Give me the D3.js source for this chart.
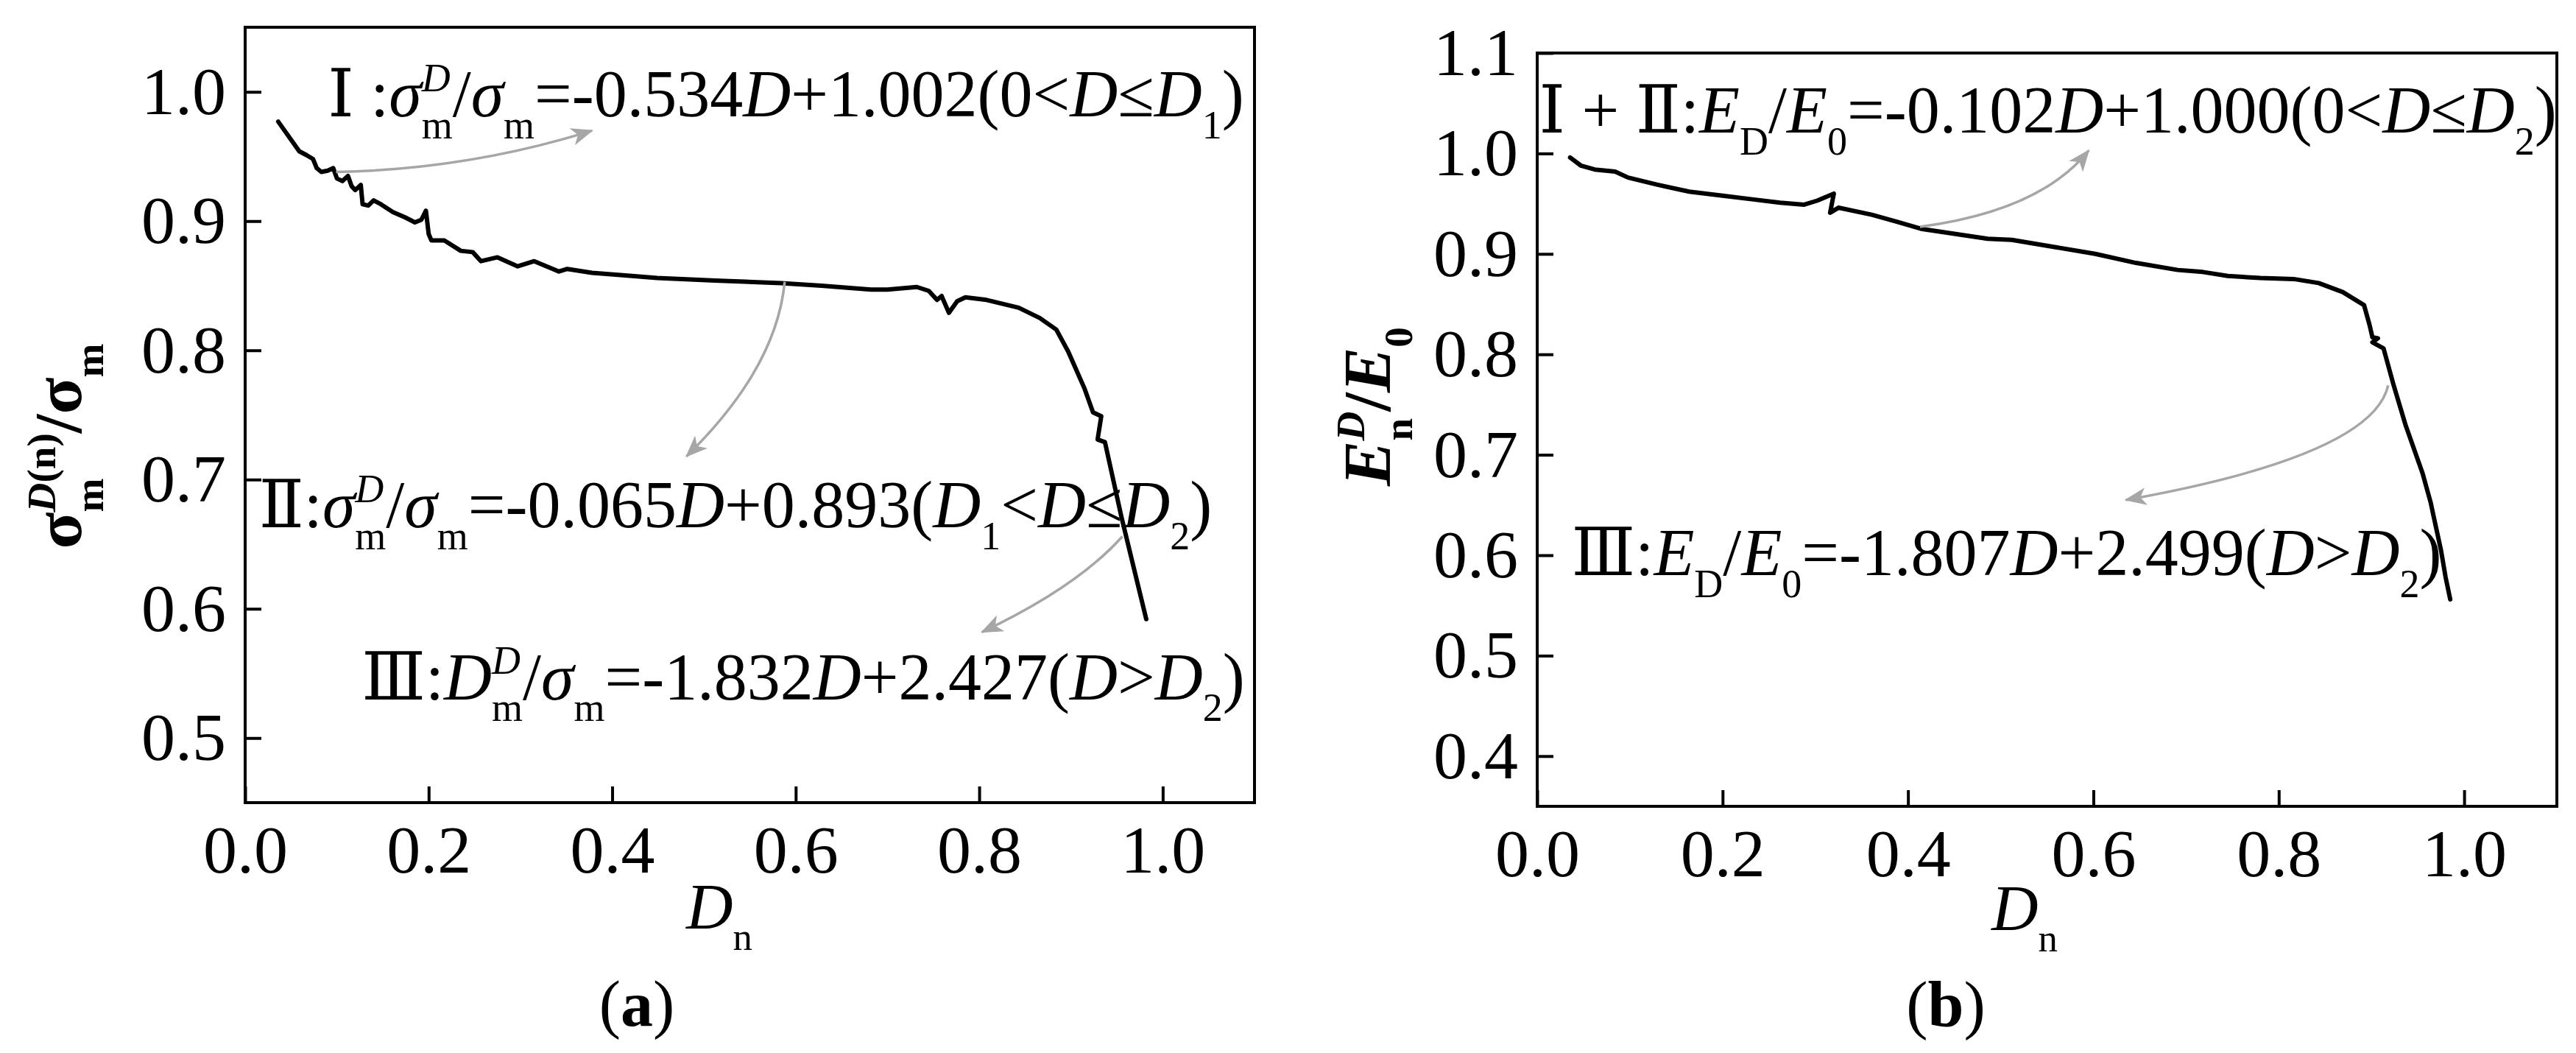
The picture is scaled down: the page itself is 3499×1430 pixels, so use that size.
<!DOCTYPE html>
<html><head><meta charset="utf-8">
<script src="https://cdn.jsdelivr.net/npm/d3@7"></script>
<style>body{margin:0;background:#fff} svg{display:block;background:#fff}</style>
</head><body>
<svg id="c" width="3499" height="1430"></svg>
<script>
// ---------- data ----------
const xTicks = [0, 0.2, 0.4, 0.6, 0.8, 1.0];
const yTicksA = [0.5, 0.6, 0.7, 0.8, 0.9, 1.0];
const yTicksB = [0.4, 0.5, 0.6, 0.7, 0.8, 0.9, 1.0, 1.1];

// (a) normalised strength vs damage
const damageA = [0.036,0.059,0.067,0.074,0.078,0.083,0.090,0.096,0.100,0.106,0.112,0.116,0.120,0.126,0.128,0.134,0.140,0.148,0.161,0.174,0.185,0.192,0.197,0.200,0.203,0.217,0.235,0.248,0.257,0.275,0.297,0.315,0.342,0.351,0.378,0.414,0.449,0.512,0.584,0.628,0.682,0.700,0.732,0.745,0.754,0.759,0.767,0.776,0.785,0.808,0.843,0.866,0.884,0.897,0.915,0.924,0.933,0.929,0.937,0.955,0.982];
const strengthA = [0.977,0.954,0.951,0.948,0.941,0.938,0.939,0.941,0.933,0.931,0.935,0.927,0.924,0.928,0.913,0.912,0.916,0.913,0.907,0.903,0.899,0.901,0.908,0.890,0.885,0.885,0.877,0.876,0.869,0.872,0.865,0.869,0.861,0.863,0.860,0.858,0.856,0.854,0.852,0.850,0.847,0.847,0.849,0.846,0.839,0.842,0.829,0.838,0.841,0.839,0.833,0.825,0.816,0.799,0.770,0.752,0.749,0.731,0.729,0.671,0.592];

// (b) normalised modulus vs damage
const damageB = [0.0355,0.047,0.062,0.084,0.098,0.129,0.164,0.200,0.235,0.262,0.288,0.302,0.320,0.316,0.325,0.361,0.388,0.414,0.450,0.486,0.512,0.557,0.602,0.646,0.691,0.718,0.745,0.780,0.816,0.843,0.869,0.892,0.898,0.901,0.907,0.901,0.913,0.924,0.937,0.955,0.964,0.967,0.975,0.980,0.985];
const modulusB = [0.996,0.988,0.984,0.982,0.976,0.969,0.962,0.958,0.954,0.951,0.949,0.953,0.960,0.941,0.946,0.939,0.932,0.925,0.920,0.915,0.914,0.907,0.900,0.891,0.884,0.882,0.878,0.876,0.875,0.871,0.862,0.849,0.829,0.817,0.816,0.812,0.806,0.769,0.729,0.682,0.652,0.639,0.605,0.578,0.556];

// annotation equations (text parts) and anchor positions in data units
const eqA1 = [{t:'Ⅰ :'},{t:'σ',i:1},{t:'D',i:1,p:'sup'},{t:'m',p:'sub',back:1},{t:'/'},{t:'σ',i:1},{t:'m',p:'sub'},{t:'=-0.534'},{t:'D',i:1},{t:'+1.002(0<'},{t:'D',i:1},{t:'≤'},{t:'D',i:1},{t:'1',p:'sub'},{t:')'}];
const eqA2 = [{t:'Ⅱ:'},{t:'σ',i:1},{t:'D',i:1,p:'sup'},{t:'m',p:'sub',back:1},{t:'/'},{t:'σ',i:1},{t:'m',p:'sub'},{t:'=-0.065'},{t:'D',i:1},{t:'+0.893('},{t:'D',i:1},{t:'1',p:'sub'},{t:'<'},{t:'D',i:1},{t:'≤'},{t:'D',i:1},{t:'2',p:'sub'},{t:')'}];
const eqA3 = [{t:'Ⅲ:'},{t:'D',i:1},{t:'D',i:1,p:'sup'},{t:'m',p:'sub',back:1},{t:'/'},{t:'σ',i:1},{t:'m',p:'sub'},{t:'=-1.832'},{t:'D',i:1},{t:'+2.427('},{t:'D',i:1},{t:'>'},{t:'D',i:1},{t:'2',p:'sub'},{t:')'}];
const eqB1 = [{t:'Ⅰ + Ⅱ:'},{t:'E',i:1},{t:'D',p:'sub'},{t:'/'},{t:'E',i:1},{t:'0',p:'sub'},{t:'=-0.102'},{t:'D',i:1},{t:'+1.000(0<'},{t:'D',i:1},{t:'≤'},{t:'D',i:1},{t:'2',p:'sub'},{t:')'}];
const eqB2 = [{t:'Ⅲ:'},{t:'E',i:1},{t:'D',p:'sub'},{t:'/'},{t:'E',i:1},{t:'0',p:'sub'},{t:'=-1.807'},{t:'D',i:1},{t:'+2.499('},{t:'D',i:1},{t:'>'},{t:'D',i:1},{t:'2',p:'sub'},{t:')'}];

const labelPosA = [[0.090, 0.981], [0.015, 0.663], [0.127, 0.530]];
const labelPosB = [[0.002, 1.0205], [0.037, 0.580]];
// arrows: [start, control, end] in data units
const arrowsA = [
  [[0.099, 0.938], [0.243, 0.940], [0.378, 0.970]],
  [[0.588, 0.853], [0.579, 0.786], [0.481, 0.718]],
  [[0.956, 0.656], [0.907, 0.617], [0.803, 0.582]]
];
const arrowsB = [
  [[0.413, 0.927], [0.543, 0.943], [0.595, 1.003]],
  [[0.918, 0.769], [0.901, 0.699], [0.635, 0.655]]
];

const titleA = [{t:'σ',b:1},{t:'D',i:1,b:1,p:'sup'},{t:'(n)',b:1,p:'sup'},{t:'m',b:1,p:'sub',back:1},{t:'/',b:1},{t:'σ',b:1},{t:'m',b:1,p:'sub'}];
const titleB = [{t:'E',i:1,b:1},{t:'D',i:1,b:1,p:'sup'},{t:'n',b:1,p:'sub',back:1},{t:'/',b:1},{t:'E',i:1,b:1},{t:'0',b:1,p:'sub'}];
const xTitle = [{t:'D',i:1},{t:'n',p:'sub'}];

// ---------- drawing ----------
const FONT = "'Liberation Serif','DejaVu Serif','Times New Roman',serif";
const svg = d3.select('#c');
svg.append('rect').attr('width',3499).attr('height',1430).attr('fill','#fff');

const defs = svg.append('defs');
defs.append('marker').attr('id','ah').attr('markerUnits','userSpaceOnUse')
  .attr('viewBox','0 0 30 24').attr('refX',28).attr('refY',12)
  .attr('markerWidth',30).attr('markerHeight',24).attr('orient','auto')
  .append('path').attr('d','M0,0 L30,12 L0,24 L8,12 Z').attr('fill','#a6a6a6');

function rich(text, parts, fs) {
  let cur = 0, runW = 0, prevRunW = 0, lastPos = null, extra = 0;
  parts.forEach(p => {
    const pos = p.p || 'base';
    const size = pos === 'base' ? fs : fs * 0.6;
    const target = pos === 'sub' ? fs * 0.33 : pos === 'sup' ? -fs * 0.38 : 0;
    if (pos !== lastPos) { prevRunW = runW; runW = 0; }
    const ts = text.append('tspan').text(p.t)
      .attr('font-size', size)
      .attr('font-style', p.i ? 'italic' : 'normal')
      .attr('font-weight', p.b ? 'bold' : 'normal');
    if (target - cur !== 0) ts.attr('dy', target - cur);
    let dx = 0;
    if (p.back) dx -= prevRunW;
    else if (extra > 0) { dx += extra; extra = 0; }
    if (dx) ts.attr('dx', dx);
    cur = target;
    const w = ts.node().getComputedTextLength();
    runW += w;
    if (p.back) { extra = Math.max(0, prevRunW - runW); }
    lastPos = pos;
  });
  return text;
}

function panel(cfg) {
  const x = d3.scaleLinear().domain([0, 1.1]).range([cfg.left, cfg.right]);
  const y = d3.scaleLinear().domain(cfg.yDomain).range([cfg.bottom, cfg.top]);
  const g = svg.append('g');

  const xa = g.append('g').attr('transform', `translate(0,${cfg.bottom})`)
    .call(d3.axisBottom(x).tickValues(xTicks).tickFormat(d3.format('.1f'))
      .tickSizeInner(-22).tickSizeOuter(0).tickPadding(30));
  const ya = g.append('g').attr('transform', `translate(${cfg.left},0)`)
    .call(d3.axisLeft(y).tickValues(cfg.yTicks).tickFormat(d3.format('.1f'))
      .tickSizeInner(-22).tickSizeOuter(0).tickPadding(26));
  [xa, ya].forEach(a => {
    a.select('.domain').remove();
    a.selectAll('line').attr('stroke', '#000').attr('stroke-width', 4);
    a.selectAll('text').attr('font-family', FONT).attr('font-size', 92).attr('fill', '#000');
  });
  g.append('rect').attr('x', cfg.left).attr('y', cfg.top)
    .attr('width', cfg.right - cfg.left).attr('height', cfg.bottom - cfg.top)
    .attr('fill', 'none').attr('stroke', '#000').attr('stroke-width', 4);

  // curve
  const pts = cfg.xs.map((d, i) => [d, cfg.ys[i]]);
  g.append('path').datum(pts)
    .attr('d', d3.line().x(d => x(d[0])).y(d => y(d[1])))
    .attr('fill', 'none').attr('stroke', '#000').attr('stroke-width', 6)
    .attr('stroke-linejoin', 'round').attr('stroke-linecap', 'round');

  // arrows
  cfg.arrows.forEach(a => {
    const [s, c, e] = a;
    g.append('path')
      .attr('d', `M${x(s[0])},${y(s[1])} Q${x(c[0])},${y(c[1])} ${x(e[0])},${y(e[1])}`)
      .attr('fill', 'none').attr('stroke', '#a6a6a6').attr('stroke-width', 3.5)
      .attr('marker-end', 'url(#ah)');
  });

  // equations
  cfg.eqs.forEach((eq, i) => {
    const t = g.append('text').attr('x', x(cfg.eqPos[i][0])).attr('y', y(cfg.eqPos[i][1]))
      .attr('font-family', FONT).attr('fill', '#000');
    rich(t, eq, cfg.eqSize);
  });

  // y title
  const yt = g.append('text').attr('transform', `translate(${cfg.yTitle[0]},${cfg.yTitle[1]}) rotate(-90)`)
    .attr('text-anchor', 'middle').attr('font-family', FONT).attr('fill', '#000');
  rich(yt, cfg.yTitleParts, 92);

  // x title
  const xt = g.append('text').attr('x', cfg.xTitle[0]).attr('y', cfg.xTitle[1])
    .attr('font-family', FONT).attr('fill', '#000');
  rich(xt, xTitle, 88);

  // caption
  const cap = g.append('text').attr('x', cfg.cap[0]).attr('y', cfg.cap[1])
    .attr('text-anchor', 'middle').attr('font-family', FONT).attr('font-size', 88).attr('fill', '#000');
  cap.append('tspan').text('(');
  cap.append('tspan').attr('font-weight', 'bold').text(cfg.capLetter);
  cap.append('tspan').text(')');
}

panel({
  left: 333, right: 1704, top: 37, bottom: 1090, yDomain: [0.45, 1.05], yTicks: yTicksA,
  xs: damageA, ys: strengthA, arrows: arrowsA, eqs: [eqA1, eqA2, eqA3], eqPos: labelPosA, eqSize: 90,
  yTitle: [110, 606], yTitleParts: titleA, xTitle: [932, 1261], cap: [865, 1393], capLetter: 'a'
});
panel({
  left: 2088, right: 3473, top: 72, bottom: 1095, yDomain: [0.35, 1.1], yTicks: yTicksB,
  xs: damageB, ys: modulusB, arrows: arrowsB, eqs: [eqB1, eqB2], eqPos: labelPosB, eqSize: 90,
  yTitle: [1888, 552], yTitleParts: titleB, xTitle: [2705, 1263], cap: [2643, 1394], capLetter: 'b'
});
</script>
</body></html>
